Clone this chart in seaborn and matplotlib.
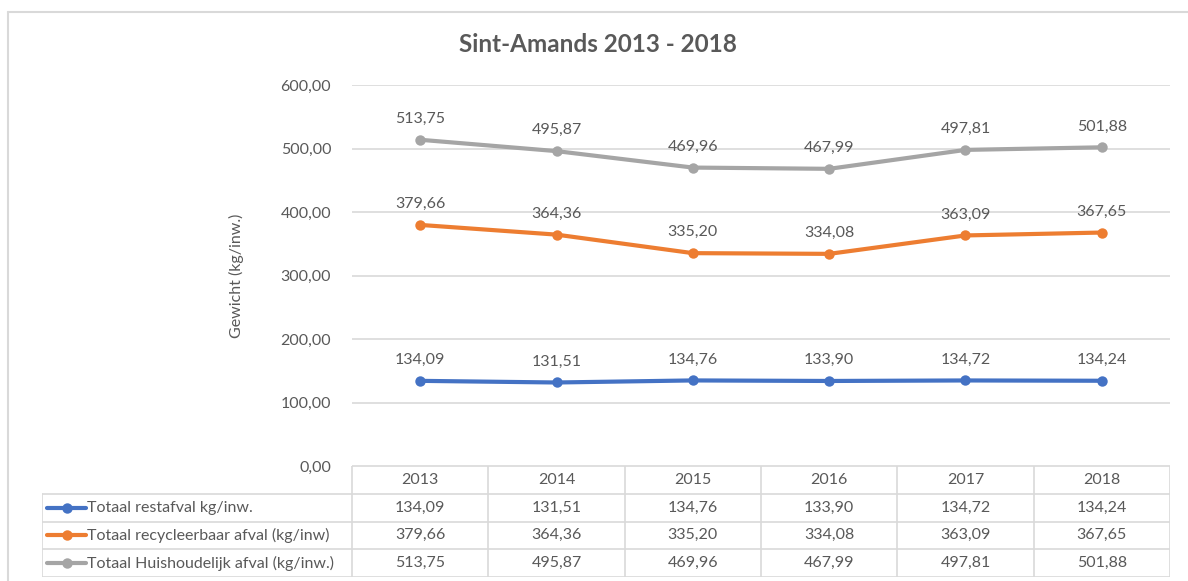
import numpy as np
import pandas as pd
import matplotlib
matplotlib.use('Agg')
import matplotlib.pyplot as plt
from matplotlib.lines import Line2D
import seaborn as sns

# values
years = ['2013', '2014', '2015', '2016', '2017', '2018']
restafval = [134.09, 131.51, 134.76, 133.90, 134.72, 134.24]
recycleerbaar = [379.66, 364.36, 335.20, 334.08, 363.09, 367.65]
huishoudelijk = [513.75, 495.87, 469.96, 467.99, 497.81, 501.88]
series_names = ['Totaal restafval kg/inw.',
                'Totaal recycleerbaar afval (kg/inw)',
                'Totaal Huishoudelijk afval (kg/inw.)']
colors = ['#4472C4', '#ED7D31', '#A5A5A5']
yticks = [0, 100, 200, 300, 400, 500, 600]

sns.set_style('white')
plt.rcParams['font.family'] = ['Lato', 'DejaVu Sans']
txt = '#595959'
grid_c = '#D9D9D9'
fs = 11.5

def fmt(v):
    return f'{v:.2f}'.replace('.', ',')

df = pd.DataFrame({
    'idx': list(range(len(years))) * 3,
    'value': restafval + recycleerbaar + huishoudelijk,
    'serie': [s for s in series_names for _ in years],
})

W, H = 1188, 581
fig = plt.figure(figsize=(W / 100, H / 100), dpi=100)
ax = fig.add_axes([352 / W, 1 - 466 / H, 818 / W, (466 - 85) / H])

sns.lineplot(data=df, x='idx', y='value', hue='serie', palette=colors,
             marker='o', markersize=7.5, markeredgewidth=0, linewidth=3,
             legend=False, ax=ax)
ax.set_xlim(-0.5, len(years) - 0.5)
ax.set_ylim(0, 600)
ax.set_yticks(yticks)
ax.set_yticklabels([fmt(v) for v in yticks], color=txt, fontsize=fs)
ax.tick_params(axis='y', length=0, pad=15)
ax.set_xticks([])
ax.set_xlabel('')
ax.set_ylabel('Gewicht (kg/inw.)', color=txt, fontsize=fs, labelpad=26)
ax.yaxis.grid(True, color=grid_c, linewidth=1.2)
ax.set_axisbelow(True)
for s in ax.spines.values():
    s.set_visible(False)

for vals in [restafval, recycleerbaar, huishoudelijk]:
    for i, v in enumerate(vals):
        ax.annotate(fmt(v), (i, v), xytext=(0, 10), textcoords='offset points',
                    ha='center', va='bottom', color=txt, fontsize=fs)

fig.text(598 / W, 1 - 45 / H, 'Sint-Amands 2013 - 2018', ha='center', va='center',
         fontsize=17.5, fontweight='bold', color=txt)

# data table below the plot
tab = fig.add_axes([42 / W, 1 - 577 / H, (1170 - 42) / W, (577 - 466) / H])
left = -0.5 - (352 - 42) / 136.33
tab.set_xlim(left, len(years) - 0.5)
tab.set_ylim(4, 0)
tab.axis('off')
lw = 1.2
tab.plot([-0.5, len(years) - 0.5], [0, 0], color=grid_c, lw=lw)
for r in range(1, 5):
    tab.plot([left, len(years) - 0.5], [r, r], color=grid_c, lw=lw)
for c in range(len(years) + 1):
    tab.plot([c - 0.5, c - 0.5], [0, 4], color=grid_c, lw=lw)
tab.plot([left, left], [1, 4], color=grid_c, lw=lw)
for i, y in enumerate(years):
    tab.text(i, 0.5, y, ha='center', va='center', color=txt, fontsize=fs)
for r, (name, vals, col) in enumerate(zip(series_names,
                                          [restafval, recycleerbaar, huishoudelijk], colors)):
    yy = r + 1.5
    tab.plot([left + 0.04, left + 0.32], [yy, yy], color=col, lw=3)
    tab.plot([left + 0.18], [yy], marker='o', color=col, markersize=7.5, markeredgewidth=0)
    tab.text(left + 0.33, yy, name, ha='left', va='center', color=txt, fontsize=fs)
    for i, v in enumerate(vals):
        tab.text(i, yy, fmt(v), ha='center', va='center', color=txt, fontsize=fs)

# chart border
fig.add_artist(Line2D([8 / W, 1], [1 - 12 / H, 1 - 12 / H], color=grid_c, lw=1.5))
fig.add_artist(Line2D([8 / W, 8 / W], [0, 1 - 12 / H], color=grid_c, lw=1.5))

fig.savefig('out.png', dpi=100)
